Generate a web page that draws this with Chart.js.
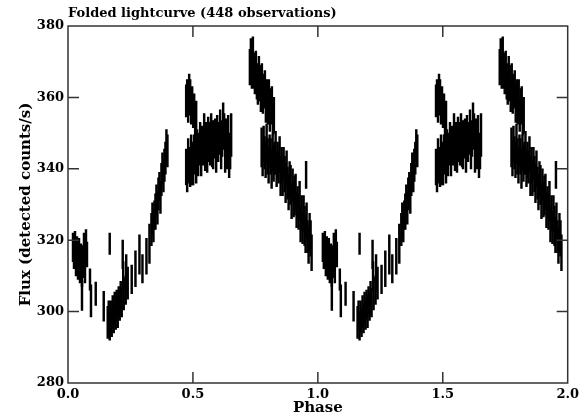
<!DOCTYPE html>
<html>
<head>
<meta charset="utf-8">
<script src="https://cdn.jsdelivr.net/npm/chart.js@4.4.1/dist/chart.umd.min.js"></script>
<style>
  html, body { margin: 0; padding: 0; background: #fff; }
</style>
</head>
<body>
<canvas id="chart1" width="583" height="417"></canvas>
<script>
const titleText = "Folded lightcurve (448 observations)";
const xTicks = [0, 0.5, 1, 1.5, 2];
const yTicks = [280, 300, 320, 340, 360, 380];

// phase of each observation (one cycle, it is drawn again at phase + 1)
const phase = [
  // dip start
  0.020, 0.024, 0.028, 0.032, 0.036, 0.040, 0.044, 0.048, 0.052, 0.056, 0.060, 0.064, 0.068, 0.072, 0.076,
  // loose points
  0.056, 0.088, 0.092, 0.111, 0.143, 0.167,
  // minimum
  0.159, 0.163, 0.167, 0.171, 0.175, 0.179, 0.183, 0.187, 0.191, 0.195, 0.199, 0.203, 0.207, 0.211, 0.215, 0.223, 0.231, 0.239,
  // rise
  0.219, 0.221, 0.233, 0.255, 0.270, 0.286, 0.298, 0.314, 0.326, 0.334, 0.338, 0.342, 0.346, 0.350, 0.354, 0.358,
  0.362, 0.366, 0.370, 0.374, 0.378, 0.382, 0.386, 0.390, 0.394, 0.398,
  // first peak, upper group
  0.473, 0.477, 0.481, 0.485, 0.489, 0.493, 0.497, 0.501, 0.505, 0.509, 0.513,
  // first peak, lower group
  0.473, 0.477, 0.481, 0.485, 0.489, 0.493, 0.497, 0.501, 0.505, 0.509, 0.513, 0.517, 0.521, 0.525, 0.529,
  0.533, 0.537, 0.541, 0.545, 0.549, 0.553, 0.557, 0.561, 0.565, 0.569, 0.573, 0.577, 0.581, 0.585, 0.589,
  0.593, 0.597, 0.601, 0.605, 0.609, 0.613, 0.617, 0.621, 0.625, 0.629, 0.633, 0.637, 0.641, 0.645, 0.649, 0.653,
  // second peak, upper group
  0.728, 0.732, 0.736, 0.740, 0.744, 0.748, 0.752, 0.756, 0.760, 0.764, 0.768, 0.772, 0.776, 0.780, 0.784,
  0.788, 0.792, 0.796, 0.800, 0.804, 0.808, 0.812, 0.816, 0.820, 0.824,
  // decline
  0.775, 0.779, 0.783, 0.787, 0.791, 0.795, 0.799, 0.803, 0.807, 0.811, 0.815, 0.819, 0.823, 0.827, 0.831,
  0.835, 0.839, 0.843, 0.847, 0.851, 0.855, 0.859, 0.863, 0.867, 0.871, 0.875, 0.879, 0.883, 0.887, 0.891,
  0.895, 0.899, 0.903, 0.907, 0.911, 0.915, 0.919, 0.923, 0.927, 0.931, 0.935, 0.939, 0.943, 0.947, 0.951,
  0.955, 0.959, 0.963, 0.967, 0.971, 0.975,
  0.953
];

// flux in detected counts/s
const flux = [
  318, 316, 319, 314, 317, 313, 316, 312, 315, 311, 314, 318, 312, 319, 316,
  304.5, 309, 303, 305, 301.5, 319,
  297, 299, 296, 298.5, 297, 300, 298, 301, 299, 302, 300, 303, 301.5, 304, 302.5, 305, 306, 308,
  316, 310, 311, 309, 312, 316, 312, 315.5, 319, 323, 326, 324, 327, 328, 331, 329,
  333, 335, 332, 337, 340, 338, 341, 343, 346, 345,
  359, 361, 358, 362, 360, 357, 359, 356, 357, 354, 355,
  340.5, 338, 343, 341, 339.5, 344.5, 341.5, 340, 344.5, 344, 340.5, 346, 343.5, 345.5, 348,
  344, 347, 345.5, 350, 344.5, 348, 345, 350, 347.5, 346, 350.5, 347, 345, 349, 348.5,
  345, 350, 347, 348.5, 350.5, 345.5, 348.5, 352, 350.5, 344.5, 348, 345, 349.5, 343, 345, 349.5,
  368.5, 371.5, 367, 371, 367.5, 365.5, 368, 364.5, 362.5, 366, 364, 360.5, 364.5, 361, 361.5,
  362.5, 358, 360.5, 358, 360, 355, 357.5, 358, 354.5, 355,
  346, 343, 347, 344.5, 342.5, 347, 343.5, 341, 345, 343.5, 340, 344.5, 341.5, 343, 344.5,
  340, 342.5, 340.5, 344, 338, 341, 337.5, 341.5, 338.5, 336, 340, 336, 333.5, 337, 335.5,
  331, 335.5, 331.5, 332.5, 333.5, 328.5, 330.5, 328, 331, 324.5, 327.5, 323.5, 327.5, 324, 321.5,
  325.5, 321, 318.5, 322, 320.5, 316.5,
  338.3
];

// 1 sigma error on the flux
const fluxErr = [
  4, 4, 3.5, 4, 4, 4, 4.5, 4, 4, 4, 4.5, 4, 4, 4, 3.5,
  4.2, 3, 4.5, 3.3, 4.2, 3,
  4.5, 4, 4, 4.5, 4, 4.5, 4, 4.5, 4, 4, 4.5, 4, 4, 4.5, 4, 4.5, 4, 4.5,
  4, 4, 5, 4, 5, 5.5, 4, 5, 5.5, 4.5, 4.5, 4.5, 4, 5, 4.5, 4.5,
  4.5, 4, 4.5, 4.5, 4.5, 4.5, 4.5, 4.5, 5, 4.5,
  4.5, 4, 5, 4.5, 5, 4.5, 4, 4.5, 4, 4.5, 4,
  5, 4.5, 5.5, 5, 4.5, 5, 6, 4.5, 5, 5.5, 4.5, 5, 5.5, 4.5, 5,
  6, 5, 4.5, 5.5, 5, 5, 6, 4.5, 5.5, 5, 5, 6.5, 5, 4.5, 5.5,
  6, 5, 5, 4.5, 6, 5.5, 5, 6.5, 5, 5.5, 6, 5, 5.5, 5.5, 5, 6,
  5, 5, 4.5, 6, 5, 4.5, 5, 5, 4.5, 5.5, 5, 4.5, 5, 5.5, 4.5,
  5, 5, 4.5, 5.5, 5, 4.5, 5, 5, 5, 5,
  5.5, 5, 5, 4.5, 5, 5.5, 5, 5, 4.5, 5, 5.5, 5, 5, 4.5, 6,
  5, 5, 4.5, 5, 5.5, 5, 5, 4.5, 5, 5.5, 5, 4.5, 5, 5, 5.5,
  5, 4.5, 5, 5.5, 5, 5, 4.5, 5, 5.5, 5, 5, 4.5, 5, 5.5, 5,
  5, 4.5, 5, 5.5, 5, 5,
  3.8
];

const fontName = '"DejaVu Serif", serif';

// PGPLOT style box: frame with ticks pointing inwards on all sides, title above
const pgBox = {
  id: "pgBox",
  afterDatasetsDraw(chart) {
    const { ctx, chartArea: a, scales } = chart;
    const tl = 11;
    ctx.save();
    ctx.strokeStyle = "#333";
    ctx.lineWidth = 1.5;
    ctx.strokeRect(a.left, a.top, a.width, a.height);
    ctx.beginPath();
    scales.x.ticks.forEach((t) => {
      const px = scales.x.getPixelForValue(t.value);
      if (px <= a.left + 1 || px >= a.right - 1) return;
      ctx.moveTo(px, a.bottom); ctx.lineTo(px, a.bottom - tl);
      ctx.moveTo(px, a.top); ctx.lineTo(px, a.top + tl);
    });
    scales.y.ticks.forEach((t) => {
      const py = scales.y.getPixelForValue(t.value);
      if (py <= a.top + 1 || py >= a.bottom - 1) return;
      ctx.moveTo(a.left, py); ctx.lineTo(a.left + tl, py);
      ctx.moveTo(a.right, py); ctx.lineTo(a.right - tl, py);
    });
    ctx.stroke();
    ctx.fillStyle = "#000";
    ctx.font = "bold 13px " + fontName;
    ctx.textAlign = "left";
    ctx.textBaseline = "alphabetic";
    ctx.fillText(titleText, a.left, a.top - 9);
    ctx.restore();
  }
};

const chart1 = () => {
  const canvas = document.getElementById("chart1");
  const ctx = canvas.getContext("2d");

  // folded: every observation shows up at phase and at phase + 1
  const bars = [];
  [0, 1].forEach((cycle) => {
    phase.forEach((p, i) => {
      bars.push({ x: p + cycle, y: [flux[i] - fluxErr[i], flux[i] + fluxErr[i]] });
    });
  });

  const myChart = new Chart(ctx, {
    type: "bar",
    data: {
      datasets: [
        {
          label: "Flux",
          data: bars,
          backgroundColor: "#000",
          borderWidth: 0,
          barThickness: 1.8,
          grouped: false
        }
      ]
    },
    options: {
      responsive: false,
      animation: false,
      layout: { padding: { left: 4, right: 11, top: 26, bottom: 0 } },
      plugins: {
        legend: { display: false },
        tooltip: { enabled: false },
        title: { display: false }
      },
      scales: {
        x: {
          type: "linear",
          min: 0,
          max: 2,
          offset: false,
          afterBuildTicks: (s) => { s.ticks = xTicks.map((v) => ({ value: v })); },
          ticks: {
            color: "#000",
            font: { family: fontName, size: 13, weight: "bold" },
            padding: 4,
            maxRotation: 0,
            callback: (v) => Number(v).toFixed(1)
          },
          grid: { display: false, drawTicks: false, offset: false },
          border: { display: false },
          title: {
            display: true,
            text: "Phase",
            color: "#000",
            font: { family: fontName, size: 15, weight: "bold" },
            padding: { top: 0, bottom: 0 }
          },
          afterFit: (s) => { s.height = 34; }
        },
        y: {
          min: 280,
          max: 380,
          afterBuildTicks: (s) => { s.ticks = yTicks.map((v) => ({ value: v })); },
          ticks: {
            color: "#000",
            font: { family: fontName, size: 13, weight: "bold" },
            padding: 4
          },
          grid: { display: false, drawTicks: false },
          border: { display: false },
          title: {
            display: true,
            text: "Flux (detected counts/s)",
            color: "#000",
            font: { family: fontName, size: 15, weight: "bold" },
            padding: { top: 13, bottom: 0 }
          },
          afterFit: (s) => { s.width = 64; }
        }
      }
    },
    plugins: [pgBox]
  });
  return myChart;
};

(function () {
  chart1();
})();
</script>
</body>
</html>
